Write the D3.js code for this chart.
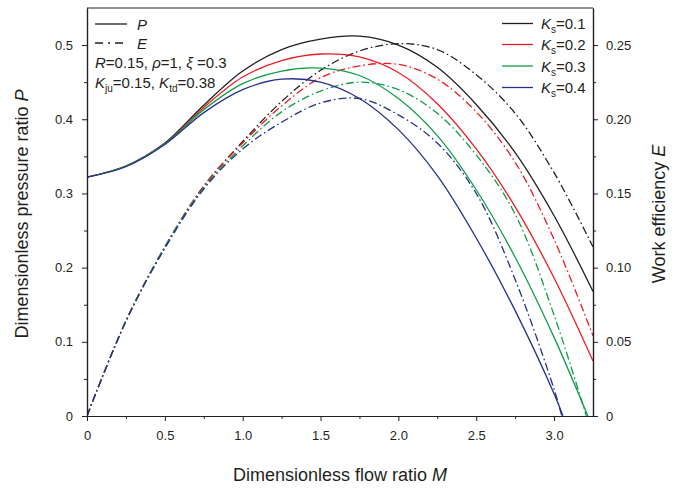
<!DOCTYPE html>
<html>
<head>
<meta charset="utf-8">
<script src="https://cdn.jsdelivr.net/npm/d3@7"></script>
<style>
  html, body { margin: 0; padding: 0; background: #fff; }
  svg { display: block; font-family: "Liberation Sans", Arial, Helvetica, sans-serif; }
</style>
</head>
<body>
<svg id="chart" width="683" height="489"></svg>
<script>
// ---------------- data ----------------
const mGrid = [0, 0.25, 0.5, 0.75, 1.0, 1.25, 1.5, 1.75, 2.0, 2.25, 2.5, 2.75, 3.0, 3.25];
const ksLabels = ["0.1", "0.2", "0.3", "0.4"];
const seriesColors = ["#231f20", "#ed1c24", "#0f9d48", "#26308e"];
// last grid point is replaced by the end of each curve
const pEndM = [3.25, 3.25, 3.217, 3.057];
const eEndM = [3.25, 3.25, 3.207, 3.05];

const P_K01 = [0.322, 0.337, 0.368, 0.419, 0.465, 0.494, 0.508, 0.512, 0.500, 0.470, 0.420, 0.355, 0.270, 0.168];
const P_K02 = [0.322, 0.337, 0.367, 0.416, 0.457, 0.479, 0.488, 0.484, 0.463, 0.421, 0.360, 0.282, 0.186, 0.074];
const P_K03 = [0.322, 0.337, 0.367, 0.413, 0.448, 0.465, 0.469, 0.459, 0.428, 0.378, 0.305, 0.214, 0.106, 0];
const P_K04 = [0.322, 0.336, 0.366, 0.409, 0.440, 0.454, 0.450, 0.428, 0.386, 0.324, 0.240, 0.142, 0.030, 0];

const E_K01 = [0, 0.064, 0.114, 0.155, 0.185, 0.212, 0.233, 0.246, 0.251, 0.247, 0.230, 0.204, 0.164, 0.114];
const E_K02 = [0, 0.064, 0.114, 0.155, 0.184, 0.209, 0.228, 0.236, 0.237, 0.227, 0.205, 0.171, 0.119, 0.054];
const E_K03 = [0, 0.064, 0.114, 0.154, 0.182, 0.205, 0.219, 0.225, 0.220, 0.204, 0.176, 0.136, 0.068, 0];
const E_K04 = [0, 0.064, 0.113, 0.153, 0.180, 0.198, 0.211, 0.214, 0.203, 0.184, 0.150, 0.092, 0.018, 0];

const xTicks = [0, 0.5, 1.0, 1.5, 2.0, 2.5, 3.0];
const pTicks = [0, 0.1, 0.2, 0.3, 0.4, 0.5];
const eTicks = [0, 0.05, 0.10, 0.15, 0.20, 0.25];

// ---------------- layout ----------------
const svg = d3.select("#chart");
const L = 87, R = 593, T = 8, B = 416;
const x = d3.scaleLinear().domain([0, 3.25]).range([L, R]);
const yP = d3.scaleLinear().domain([0, 0.55]).range([B, T]);
const yE = d3.scaleLinear().domain([0, 0.275]).range([B, T]);
const ink = "#231f20";

svg.append("clipPath").attr("id", "plotclip")
  .append("rect").attr("x", L).attr("y", T).attr("width", R - L).attr("height", B - T);

// ---------------- curves ----------------
const Ps = [P_K01, P_K02, P_K03, P_K04];
const Es = [E_K01, E_K02, E_K03, E_K04];
const toPts = (vals, endM) => vals.map((v, i) => [i === vals.length - 1 ? endM : mGrid[i], v]);

const g = svg.append("g").attr("clip-path", "url(#plotclip)");
const lineP = d3.line().x(d => x(d[0])).y(d => yP(d[1])).curve(d3.curveCatmullRom.alpha(0.5));
const lineE = d3.line().x(d => x(d[0])).y(d => yE(d[1])).curve(d3.curveCatmullRom.alpha(0.5));

Es.forEach((vals, i) => {
  g.append("path").attr("d", lineE(toPts(vals, eEndM[i])))
    .attr("fill", "none").attr("stroke", seriesColors[i]).attr("stroke-width", 1.3)
    .attr("stroke-dasharray", "8,3,1.6,3");
});
Ps.forEach((vals, i) => {
  g.append("path").attr("d", lineP(toPts(vals, pEndM[i])))
    .attr("fill", "none").attr("stroke", seriesColors[i]).attr("stroke-width", 1.3);
});

// ---------------- axes ----------------
const fmt1 = d => d === 0 ? "0" : d3.format(".1f")(d);
const fmt2 = d => d === 0 ? "0" : d3.format(".2f")(d);

function styleAxis(sel) {
  sel.selectAll("path").attr("stroke", ink).attr("stroke-width", 1.2);
  sel.selectAll("line").attr("stroke", ink).attr("stroke-width", 1);
  sel.selectAll("text").attr("fill", ink).style("font-size", "13px")
     .style("font-family", "'Liberation Sans', Arial, sans-serif");
}

// minor ticks
const xMinor = d3.range(0.25, 3.25, 0.5);
const pMinor = d3.range(0.05, 0.55, 0.1);
const eMinor = d3.range(0.025, 0.275, 0.05);

svg.append("g").attr("transform", `translate(0,${B})`)
  .call(d3.axisBottom(x).tickValues(xMinor).tickSize(3).tickFormat("").tickSizeOuter(0))
  .call(styleAxis);
svg.append("g").attr("transform", `translate(${L},0)`)
  .call(d3.axisLeft(yP).tickValues(pMinor).tickSize(3).tickFormat("").tickSizeOuter(0))
  .call(styleAxis);
svg.append("g").attr("transform", `translate(${R},0)`)
  .call(d3.axisRight(yE).tickValues(eMinor).tickSize(3).tickFormat("").tickSizeOuter(0))
  .call(styleAxis);

svg.append("g").attr("transform", `translate(0,${B})`)
  .call(d3.axisBottom(x).tickValues(xTicks).tickFormat(fmt1).tickSize(5).tickSizeOuter(0).tickPadding(10))
  .call(styleAxis);
svg.append("g").attr("transform", `translate(${L},0)`)
  .call(d3.axisLeft(yP).tickValues(pTicks).tickFormat(fmt1).tickSize(5).tickSizeOuter(0).tickPadding(9))
  .call(styleAxis);
svg.append("g").attr("transform", `translate(${R},0)`)
  .call(d3.axisRight(yE).tickValues(eTicks).tickFormat(fmt2).tickSize(5).tickSizeOuter(0).tickPadding(8))
  .call(styleAxis);

// top frame
svg.append("line").attr("x1", L).attr("x2", R).attr("y1", T).attr("y2", T)
  .attr("stroke", ink).attr("stroke-width", 1.2);

// ---------------- axis titles ----------------
const titleFont = "18px";
const tl = svg.append("text").attr("transform", `translate(28,214) rotate(-90)`)
  .attr("text-anchor", "middle").attr("fill", ink).style("font-size", titleFont);
tl.append("tspan").text("Dimensionless pressure ratio ");
tl.append("tspan").attr("font-style", "italic").text("P");

const tr = svg.append("text").attr("transform", `translate(665,214) rotate(-90)`)
  .attr("text-anchor", "middle").attr("fill", ink).style("font-size", titleFont);
tr.append("tspan").text("Work efficiency ");
tr.append("tspan").attr("font-style", "italic").text("E");

const tb = svg.append("text").attr("x", 340).attr("y", 481)
  .attr("text-anchor", "middle").attr("fill", ink).style("font-size", titleFont);
tb.append("tspan").text("Dimensionless flow ratio ");
tb.append("tspan").attr("font-style", "italic").text("M");

// ---------------- left legend ----------------
const lf = "15px";
svg.append("line").attr("x1", 95).attr("x2", 127).attr("y1", 24).attr("y2", 24)
  .attr("stroke", ink).attr("stroke-width", 1.3);
svg.append("text").attr("x", 137).attr("y", 29.5).attr("fill", ink).style("font-size", lf)
  .attr("font-style", "italic").text("P");
svg.append("line").attr("x1", 95).attr("x2", 127).attr("y1", 43).attr("y2", 43)
  .attr("stroke", ink).attr("stroke-width", 1.3).attr("stroke-dasharray", "8,5,2,5");
svg.append("text").attr("x", 137).attr("y", 48.5).attr("fill", ink).style("font-size", lf)
  .attr("font-style", "italic").text("E");

const t1 = svg.append("text").attr("x", 95).attr("y", 68).attr("fill", ink).style("font-size", lf);
t1.append("tspan").attr("font-style", "italic").text("R");
t1.append("tspan").text("=0.15, ");
t1.append("tspan").attr("font-style", "italic").text("ρ");
t1.append("tspan").text("=1, ");
t1.append("tspan").attr("font-style", "italic").text("ξ");
t1.append("tspan").text(" =0.3");

const t2 = svg.append("text").attr("x", 95).attr("y", 88).attr("fill", ink).style("font-size", lf);
t2.append("tspan").attr("font-style", "italic").text("K");
t2.append("tspan").attr("dy", 4).style("font-size", "10px").text("ju");
t2.append("tspan").attr("dy", -4).text("=0.15, ");
t2.append("tspan").attr("font-style", "italic").text("K");
t2.append("tspan").attr("dy", 4).style("font-size", "10px").text("td");
t2.append("tspan").attr("dy", -4).text("=0.38");

// ---------------- right legend ----------------
const legY = [23.5, 44.5, 66, 87.5];
ksLabels.forEach((k, i) => {
  svg.append("line").attr("x1", 502).attr("x2", 533).attr("y1", legY[i]).attr("y2", legY[i])
    .attr("stroke", seriesColors[i]).attr("stroke-width", 1.3);
  const t = svg.append("text").attr("x", 541).attr("y", legY[i] + 5.5).attr("fill", ink).style("font-size", lf);
  t.append("tspan").attr("font-style", "italic").text("K");
  t.append("tspan").attr("dy", 4).style("font-size", "10px").text("s");
  t.append("tspan").attr("dy", -4).text("=" + k);
});
</script>
</body>
</html>
